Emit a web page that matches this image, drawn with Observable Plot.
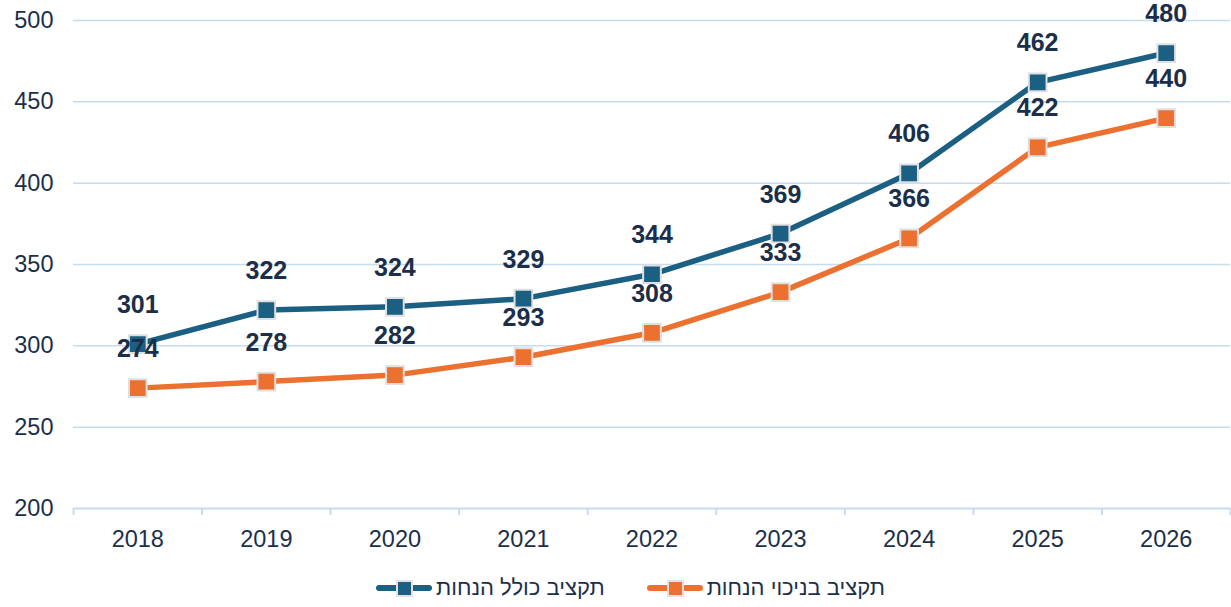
<!DOCTYPE html>
<html><head><meta charset="utf-8">
<script src="https://cdn.jsdelivr.net/npm/d3@7"></script>
<script src="https://cdn.jsdelivr.net/npm/@observablehq/plot@0.6"></script>
<style>
body{margin:0;background:#fff;font-family:Arial,"Liberation Sans",sans-serif;}
#legend{display:flex;justify-content:flex-start;align-items:center;height:47px;padding-top:8px;box-sizing:border-box;padding-left:376px;font-size:22px;color:#1b2f4b;}
.item{display:flex;align-items:center;}
.sym{position:relative;width:56px;height:20px;margin-right:4px;}
.sym .ln{position:absolute;left:0;right:0;top:7px;height:6px;border-radius:3px;}
.sym .mk{position:absolute;left:20px;top:2px;width:13px;height:13px;border:2px solid #e2e2e2;}
.txt{direction:rtl;}
</style></head>
<body>
<div id="chart"></div>
<div id="legend"></div>
<script>
const years = ["2018","2019","2020","2021","2022","2023","2024","2025","2026"];
const totalBudget = [301,322,324,329,344,369,406,462,480];
const netBudget = [274,278,282,293,308,333,366,422,440];
const seriesNames = ["תקציב כולל הנחות","תקציב בניכוי הנחות"];
const colors = ["#1b5f83","#ec7131"];
const yTicks = [200,250,300,350,400,450,500];

const data = [];
years.forEach((y,i)=>{
  data.push({i, year:y, value: totalBudget[i], series: seriesNames[0]});
  data.push({i, year:y, value: netBudget[i], series: seriesNames[1]});
});
const idx = years.map((_,i)=>i);
const bounds = d3.range(years.length+1).map(i=>i-0.5);

const chart = Plot.plot({
  width: 1231, height: 560,
  marginLeft: 73, marginRight: 1, marginTop: 20, marginBottom: 52,
  style: {fontFamily: "Arial, 'Liberation Sans', sans-serif", color:"#1b2f4b", background:"#fff"},
  x: {type:"linear", domain:[-0.5, years.length-0.5]},
  y: {domain:[200,500]},
  color: {domain: seriesNames, range: colors},
  marks: [
    Plot.gridY(yTicks.filter(t=>t>200), {stroke:"#c8dcf0", strokeOpacity:1, strokeWidth:1.5}),
    Plot.ruleY([200], {stroke:"#c8dcf0", strokeWidth:2}),
    Plot.axisY(yTicks, {tickSize:0, tickPadding:20, fontSize:23.5, fill:"#1b2f4b", label:null}),
    Plot.axisX(bounds, {tickSize:7, stroke:"#c8dcf0", strokeWidth:2, tickFormat:()=>"", label:null}),
    Plot.axisX(idx, {tickSize:0, tickPadding:22, fontSize:23.5, fill:"#1b2f4b", tickFormat:i=>years[i], label:null}),
    Plot.line(data, {x:"i", y:"value", z:"series", stroke:"series", strokeWidth:5.5, strokeLinejoin:"round"}),
    Plot.dot(data, {x:"i", y:"value", symbol:"square", r:10, fill:"series", stroke:"#e0e0e0", strokeWidth:2}),
    Plot.text(data, {x:"i", y:"value", text:"value", dy:-39, fontSize:25, fontWeight:"bold", fill:"#1b2f4b"})
  ]
});
document.getElementById("chart").appendChild(chart);

const leg = document.getElementById("legend");
seriesNames.forEach((n,k)=>{
  const it = document.createElement("div"); it.className="item";
  if(k===1) it.style.marginLeft="42px";
  it.innerHTML = `<div class="sym"><div class="ln" style="background:${colors[k]}"></div><div class="mk" style="background:${colors[k]}"></div></div><span class="txt">${n}</span>`;
  leg.appendChild(it);
});
</script>
</body></html>
